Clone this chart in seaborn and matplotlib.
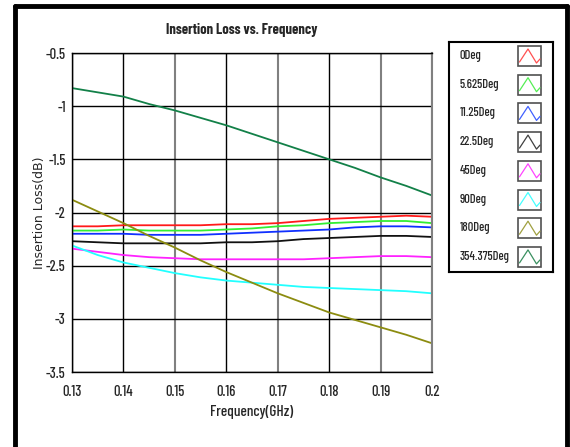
import numpy as np
import pandas as pd
import matplotlib
matplotlib.use("Agg")
import matplotlib.pyplot as plt
from matplotlib import font_manager as fm
from matplotlib.lines import Line2D
from matplotlib.patches import Rectangle
import seaborn as sns

freq = [0.13, 0.135, 0.14, 0.145, 0.15, 0.155, 0.16, 0.165, 0.17, 0.175, 0.18, 0.185, 0.19, 0.195, 0.2]
series_names = ["0Deg", "5.625Deg", "11.25Deg", "22.5Deg", "45Deg", "90Deg", "180Deg", "354.375Deg"]
deg0 = [-2.13, -2.13, -2.12, -2.12, -2.12, -2.12, -2.11, -2.11, -2.10, -2.08, -2.06, -2.05, -2.04, -2.03, -2.04]
deg5_625 = [-2.17, -2.17, -2.16, -2.17, -2.17, -2.17, -2.16, -2.15, -2.13, -2.12, -2.10, -2.09, -2.08, -2.08, -2.10]
deg11_25 = [-2.20, -2.20, -2.20, -2.21, -2.21, -2.21, -2.20, -2.19, -2.18, -2.17, -2.16, -2.14, -2.13, -2.13, -2.14]
deg22_5 = [-2.27, -2.28, -2.29, -2.29, -2.29, -2.29, -2.28, -2.28, -2.27, -2.25, -2.24, -2.23, -2.22, -2.22, -2.23]
deg45 = [-2.34, -2.37, -2.40, -2.42, -2.43, -2.44, -2.44, -2.44, -2.44, -2.44, -2.43, -2.42, -2.41, -2.41, -2.42]
deg90 = [-2.31, -2.40, -2.47, -2.52, -2.57, -2.61, -2.64, -2.66, -2.68, -2.70, -2.71, -2.72, -2.73, -2.74, -2.76]
deg180 = [-1.88, -1.99, -2.10, -2.22, -2.33, -2.45, -2.56, -2.66, -2.76, -2.85, -2.94, -3.01, -3.08, -3.15, -3.23]
deg354_375 = [-0.83, -0.87, -0.91, -0.98, -1.04, -1.11, -1.18, -1.26, -1.34, -1.42, -1.50, -1.58, -1.67, -1.75, -1.84]
colors = ["#ff1a1a", "#33ee33", "#1030ff", "#111111", "#ff22ff", "#22ffff", "#8c8c10", "#128048"]
icon_colors = ["#ff5050", "#55ee55", "#4060ff", "#404040", "#ff44ff", "#44ffff", "#a0a040", "#3a9060"]

xticks = [0.13, 0.14, 0.15, 0.16, 0.17, 0.18, 0.19, 0.2]
xticklabels = ["0.13", "0.14", "0.15", "0.16", "0.17", "0.18", "0.19", "0.2"]
yticks = [-3.5, -3, -2.5, -2, -1.5, -1, -0.5]
yticklabels = ["-3.5", "-3", "-2.5", "-2", "-1.5", "-1", "-0.5"]

values = [deg0, deg5_625, deg11_25, deg22_5, deg45, deg90, deg180, deg354_375]
rows = []
for name, vals in zip(series_names, values):
    for f, v in zip(freq, vals):
        rows.append({"Frequency": f, "Loss": v, "Series": name})
df = pd.DataFrame(rows)

sns.set_theme(style="white")
narrow = ["Barlow Condensed", "Asap Condensed", "DejaVu Sans"]
plt.rcParams["font.family"] = narrow

fp_reg = fm.FontProperties(family=narrow, weight="medium")
fp_bold = fm.FontProperties(family=narrow, weight="bold")

fig = plt.figure(figsize=(5.7, 4.47), dpi=100)
fig.patch.set_facecolor("white")
ax = fig.add_axes([72 / 570, 1 - 372 / 447, 360 / 570, 319 / 447])

sns.lineplot(data=df, x="Frequency", y="Loss", hue="Series", hue_order=series_names,
             palette=colors, ax=ax, legend=False, linewidth=1.3, estimator=None, sort=True)

ax.set_xlim(0.13, 0.2)
ax.set_ylim(-3.5, -0.5)
ax.set_xticks(xticks)
ax.set_xticklabels(xticklabels)
ax.set_yticks(yticks)
ax.set_yticklabels(yticklabels)
for lbl in ax.get_xticklabels() + ax.get_yticklabels():
    lbl.set_fontproperties(fp_reg)
    lbl.set_fontsize(10.5)
ax.tick_params(axis="y", length=3, width=0.8, color="black", pad=1.5)
ax.tick_params(axis="x", length=0, pad=9)
ax.grid(True, color="black", linewidth=1.0)
for i, gl in enumerate(ax.get_xgridlines()):
    if i in (2, 4, 6, 7):
        gl.set_color("#808080")
        gl.set_linewidth(1.5)
ax.set_axisbelow(True)
for s in ["left", "bottom", "top"]:
    ax.spines[s].set_color("black")
    ax.spines[s].set_linewidth(1.0)
ax.spines["right"].set_color("#808080")
ax.spines["right"].set_linewidth(1.5)

ax.set_xlabel("Frequency(GHz)", fontproperties=fp_reg, fontsize=11)
ax.xaxis.set_label_coords(0.5, -0.105)
ax.set_ylabel("Insertion Loss(dB)", fontsize=9, family=["DejaVu Sans"])
ax.yaxis.set_label_coords(-0.072, 0.5)
fig.text(242 / 570, 1 - 30 / 447, "Insertion Loss vs. Frequency", ha="center", va="center",
         fontproperties=fp_bold, fontsize=10.5)

# outer frame
fig.add_artist(Line2D([15 / 570, 15 / 570], [0, 1 - 6 / 447], transform=fig.transFigure, color="black", lw=3.5))
fig.add_artist(Line2D([15 / 570, 567 / 570], [1 - 6 / 447, 1 - 6 / 447], transform=fig.transFigure, color="black", lw=3.5))
fig.add_artist(Line2D([567 / 570, 567 / 570], [0, 1 - 6 / 447], transform=fig.transFigure, color="black", lw=3.5))

# legend panel
lax = fig.add_axes([449 / 570, 1 - 272 / 447, 104 / 570, 230 / 447])
lax.set_xlim(0, 104)
lax.set_ylim(230, 0)
lax.set_xticks([])
lax.set_yticks([])
for s in lax.spines.values():
    s.set_color("black")
    s.set_linewidth(1.5)
for i, (name, c) in enumerate(zip(series_names, icon_colors)):
    yc = 14 + i * 28.7
    lax.text(11, yc, name, ha="left", va="center", fontproperties=fp_reg, fontsize=9)
    lax.add_patch(Rectangle((69, yc - 10), 23, 20, fill=False, edgecolor="#505050", lw=1.2))
    lax.plot([70.5, 79, 87.5, 91], [yc + 6, yc - 7, yc + 7, yc + 3], color=c, lw=0.9)

fig.savefig("out.png", dpi=100)
